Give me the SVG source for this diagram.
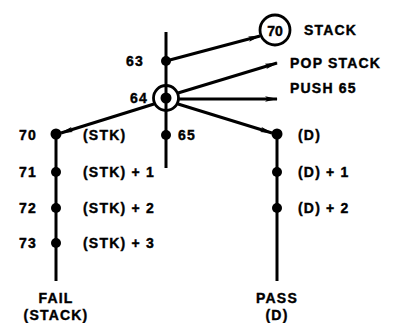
<svg xmlns="http://www.w3.org/2000/svg" width="407" height="323" viewBox="0 0 407 323">
  <style>
    .ln { stroke: #000; stroke-width: 3; fill: none; }
    .arr { marker-end: url(#head); }
    .dot { fill: #000; }
    .ring { fill: #fff; stroke: #000; stroke-width: 2.8; }
    text { font-family: "Liberation Sans", Arial, sans-serif; font-weight: bold; font-size: 14px; letter-spacing: 1.2px; fill: #000; stroke: #000; stroke-width: 0.4; }
    .mid { text-anchor: middle; }
    .end { text-anchor: end; }
  </style>
  <defs>
    <marker id="head" viewBox="0 0 12 6" refX="11" refY="3" markerWidth="13" markerHeight="6.5" markerUnits="userSpaceOnUse" orient="auto">
      <path d="M0,0.5 L12,3 L0,5.5 L2.5,3 Z" fill="#000"/>
    </marker>
  </defs>

  <g id="connectors">
    <!-- main vertical trunk through 63, 64 and 65 -->
    <line class="ln" x1="166" y1="32" x2="166" y2="168"/>
    <!-- 63 to node 70 (stack) -->
    <line class="ln arr" x1="166" y1="61" x2="260" y2="36"/>
    <!-- 64 outputs -->
    <line class="ln arr" x1="178" y1="93" x2="277" y2="63"/>
    <line class="ln arr" x1="179" y1="99" x2="277" y2="99"/>
    <line class="ln arr" x1="154" y1="104" x2="61" y2="133"/>
    <line class="ln arr" x1="178" y1="104" x2="272" y2="133"/>
    <!-- fail column -->
    <line class="ln" x1="56" y1="134" x2="56" y2="281"/>
    <!-- pass column -->
    <line class="ln" x1="277" y1="134" x2="277" y2="281"/>
  </g>

  <g id="node-63">
    <circle class="dot" cx="166" cy="61" r="5"/>
    <text class="end" x="144" y="66">63</text>
  </g>

  <g id="node-64">
    <circle class="ring" cx="166" cy="98" r="12.5"/>
    <line class="ln" x1="166" y1="86" x2="166" y2="110"/>
    <circle class="dot" cx="166" cy="98" r="5.5"/>
    <text class="end" x="148" y="103">64</text>
  </g>

  <g id="node-stack-70">
    <circle class="ring" cx="275" cy="30" r="15"/>
    <text class="mid" x="275" y="35.5" style="letter-spacing:0">70</text>
    <text x="304" y="35">STACK</text>
  </g>

  <g id="label-pop">
    <text x="290" y="68">POP  STACK</text>
  </g>

  <g id="label-push">
    <text x="290" y="93">PUSH 65</text>
  </g>

  <g id="node-65">
    <circle class="dot" cx="166" cy="135" r="5"/>
    <text x="178" y="140">65</text>
  </g>

  <g id="node-70">
    <circle class="dot" cx="56" cy="134" r="5.5"/>
    <text class="end" x="37" y="140">70</text>
    <text x="83" y="140">(STK)</text>
  </g>
  <g id="node-71">
    <circle class="dot" cx="56" cy="172" r="5"/>
    <text class="end" x="37" y="177">71</text>
    <text x="83" y="177">(STK) + 1</text>
  </g>
  <g id="node-72">
    <circle class="dot" cx="56" cy="208" r="5"/>
    <text class="end" x="37" y="213">72</text>
    <text x="83" y="213">(STK) + 2</text>
  </g>
  <g id="node-73">
    <circle class="dot" cx="56" cy="243" r="5"/>
    <text class="end" x="37" y="248">73</text>
    <text x="83" y="248">(STK) + 3</text>
  </g>
  <g id="node-fail">
    <text class="mid" x="56" y="303">FAIL</text>
    <text class="mid" x="56" y="320">(STACK)</text>
  </g>

  <g id="node-d">
    <circle class="dot" cx="277" cy="134" r="5.5"/>
    <text x="298" y="140">(D)</text>
  </g>
  <g id="node-d1">
    <circle class="dot" cx="277" cy="172" r="5"/>
    <text x="298" y="177">(D) + 1</text>
  </g>
  <g id="node-d2">
    <circle class="dot" cx="277" cy="208" r="5"/>
    <text x="298" y="213">(D) + 2</text>
  </g>
  <g id="node-pass">
    <text class="mid" x="277" y="303">PASS</text>
    <text class="mid" x="277" y="320">(D)</text>
  </g>
</svg>
